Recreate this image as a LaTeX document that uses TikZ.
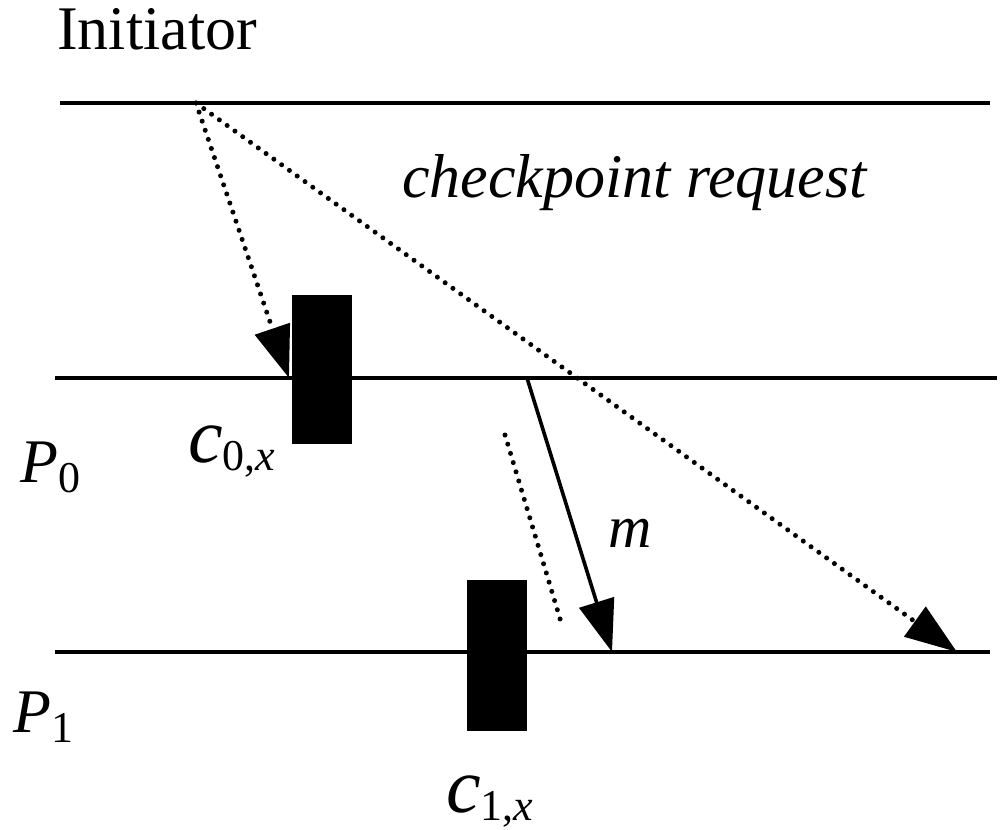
\documentclass[tikz,border=0pt]{standalone}
\usepackage{fontspec}
\setmainfont{Liberation Serif}
\newfontfamily\labelfont{Liberation Serif}
\usetikzlibrary{arrows.meta}
\tikzset{
  timeline/.style={line width=3.6pt},
  ckpt/.style={fill=black, draw=none, inner sep=0pt, minimum width=60pt},
  dotline/.style={line width=5pt, line cap=round, dash pattern=on 0pt off 9.6pt},
  bigtip/.style={-{Triangle[length=52pt,width=36pt]}},
  lbl/.style={inner sep=0pt, anchor=base west, font=\labelfont},
}
\newcommand{\bigfont}{\fontsize{62}{70}\selectfont}
\newcommand{\subfont}{\fontsize{44}{48}\selectfont}
\begin{document}
\begin{tikzpicture}[x=1pt,y=1pt]
  \useasboundingbox (0,0) rectangle (1000,-829);
  % process time lines
  \coordinate (i0) at (60,-103);  \coordinate (i1) at (990,-103);
  \coordinate (p00) at (55,-378); \coordinate (p01) at (997,-378);
  \coordinate (p10) at (55,-652); \coordinate (p11) at (990,-652);
  \draw[timeline] (i0) -- (i1);
  \draw[timeline] (p00) -- (p01);
  \draw[timeline] (p10) -- (p11);
  % checkpoints
  \node[ckpt, minimum height=149pt] (c0) at (322,-369.5) {};
  \node[ckpt, minimum height=151pt] (c1) at (497,-655.5) {};
  % checkpoint request messages
  \coordinate (req) at (196,-103);
  \coordinate (req0) at (289,-378);
  \coordinate (req1) at (957,-652);
  \draw[dotline, bigtip] (req) -- (req0);
  \draw[dotline, bigtip] (req) -- (req1);
  % application message m
  \coordinate (ms) at (527,-378);
  \coordinate (mr) at (612,-652);
  \draw[line width=3.6pt, bigtip] (ms) -- (mr);
  \coordinate (d0) at (505,-435);
  \coordinate (d1) at (561,-622);
  \draw[dotline] (d0) -- (d1);
  % labels
  \node[lbl] (tinit) at (57,-50) {\bigfont Initiator};
  \node[lbl] (treq) at (402,-197) {\bigfont\itshape checkpoint request};
  \node[lbl] (tp0) at (20,-482) {\bigfont\itshape P\raisebox{-10pt}{\subfont\upshape 0}};
  \node[lbl] (tp1) at (13,-732) {\bigfont\itshape P\raisebox{-10pt}{\subfont\upshape 1}};
  \node[lbl] (tc0) at (188,-462) {\fontsize{78}{80}\selectfont\itshape c\raisebox{-8pt}{\subfont\upshape 0,\itshape x}};
  \node[lbl] (tc1) at (446,-812) {\fontsize{78}{80}\selectfont\itshape c\raisebox{-8pt}{\subfont\upshape 1,\itshape x}};
  \node[lbl] (tm) at (608,-547) {\fontsize{60}{64}\selectfont\itshape m};
\end{tikzpicture}
\end{document}
